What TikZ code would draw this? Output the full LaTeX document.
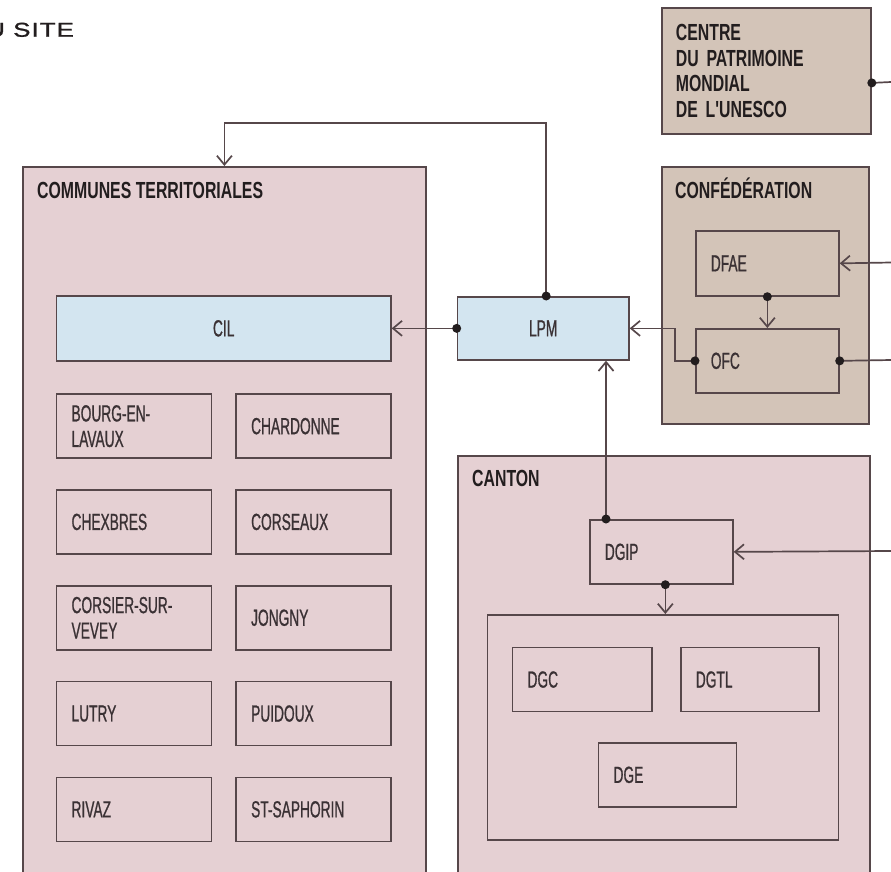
\documentclass[tikz,border=0pt]{standalone}
\usepackage{fontspec}
\setmainfont{Liberation Sans}
\newfontfamily\headfont[FakeStretch=1.3, FakeBold=1.2, LetterSpace=5]{Liberation Sans}
\newfontfamily\condfont[FakeStretch=0.59, FakeBold=0.8]{Liberation Sans}
\newfontfamily\condbold[FakeStretch=0.68]{Liberation Sans}
\usetikzlibrary{calc, arrows.meta}
\definecolor{pinkbg}{HTML}{E5D0D3}
\definecolor{tanbg}{HTML}{D3C4B8}
\definecolor{bluebg}{HTML}{D3E5F0}
\definecolor{edge}{HTML}{56474A}
\definecolor{ink}{HTML}{3A3134}
\definecolor{dark}{HTML}{221D1E}
\tikzset{>={Straight Barb[length=9pt,width=15pt]},
  zone/.style={draw=edge, line width=1.8pt, anchor=north west, inner sep=0pt},
  cell/.style={draw=edge, line width=1.7pt, anchor=north west, inner xsep=15pt, inner ysep=0pt,
    align=left, text=ink, font=\condfont\fontsize{23.3}{25.5}\selectfont},
  title/.style={anchor=base west, inner sep=0pt, text=dark, font=\condbold\bfseries\fontsize{23.3}{25.5}\selectfont},
  link/.style={draw=edge, line width=1.7pt}
}

\begin{document}
\begin{tikzpicture}[x=1pt, y=-1pt]
\useasboundingbox (0,0) rectangle (891,871);
\node[anchor=base west, inner sep=0pt, text=dark, font=\headfont\fontsize{20}{20}\selectfont] (head) at (-14,36.7) {U SITE};
% communes
\node[zone, fill=pinkbg, minimum width=403pt, minimum height=714pt] (communes) at (22,166) {};
\node[title] (communesT) at (37,198) {COMMUNES TERRITORIALES};
\node[cell, fill=bluebg, align=center, text width=304.3pt, minimum height=65pt] (cil) at (55.7,295) {CIL};
\foreach \txt [count=\i from 0] in {{BOURG-EN-\\LAVAUX}, CHARDONNE, CHEXBRES, CORSEAUX,
  {CORSIER-SUR-\\VEVEY}, JONGNY, LUTRY, PUIDOUX, RIVAZ, ST-SAPHORIN}{
  \pgfmathsetmacro\cx{55.7+179.6*mod(\i,2)}
  \pgfmathsetmacro\cy{393.3+95.8*int(\i/2)}
  \node[cell, text width=125pt, minimum height=64pt] (com\i) at (\cx,\cy) {\txt};
}
% lpm
\node[cell, fill=bluebg, align=center, text width=141.3pt, minimum height=63pt] (lpm) at (456.7,296) {LPM};
% unesco + confederation
\node[zone, fill=tanbg, align=left, text width=180.7pt, inner xsep=14.3pt, minimum height=126pt,
  text=dark, font=\condbold\bfseries\fontsize{23.3}{25.5}\selectfont] (centre) at (660.7,7)
  {CENTRE\\DU PATRIMOINE\\MONDIAL\\DE L'UNESCO};
\node[zone, fill=tanbg, minimum width=207.3pt, minimum height=257pt] (confed) at (660.7,166) {};
\node[title] (confedT) at (675,198) {CONFÉDÉRATION};
\node[cell, text width=113pt, minimum height=65pt] (dfae) at (695,230) {DFAE};
\node[cell, text width=113pt, minimum height=64pt] (ofc) at (695,328) {OFC};
% canton
\node[zone, fill=pinkbg, minimum width=412pt, minimum height=425pt] (canton) at (457,455) {};
\node[title] (cantonT) at (472,486) {CANTON};
\node[cell, text width=113pt, minimum height=64pt] (dgip) at (589,519) {DGIP};
\node[zone, line width=1.7pt, minimum width=351pt, minimum height=225pt] (dir) at (486.7,614) {};
\node[cell, text width=109.3pt, minimum height=64pt] (dgc) at (511.7,646.7) {DGC};
\node[cell, text width=108pt, minimum height=64pt] (dgtl) at (680,646.7) {DGTL};
\node[cell, text width=108pt, minimum height=64pt] (dge) at (597.7,742) {DGE};
% connectors
\coordinate (loop) at (0,123);
\coordinate (lpmTop) at ([xshift=3pt]lpm.north);
\coordinate (centreR) at ([yshift=-12pt]centre.east);
\coordinate (dgipTop) at ($(dgip.north west)+(17,0)$);
\coordinate (dgipBot) at ([xshift=4pt]dgip.south);
\coordinate (eUnesco) at (891,82);
\coordinate (eDfae) at (891,262.5);
\coordinate (eOfc) at (891,360);
\coordinate (eDgip) at (891,551);
\draw[link, ->] (lpmTop) |- (communes.north |- loop) -- (communes.north);
\draw[link, ->] (ofc.west) -- ++(-20,0) |- (lpm.east);
\draw[link, ->] (dgipTop) -- (dgipTop |- lpm.south);
\draw[link, ->] (dgipBot) -- (dgipBot |- dir.north);
\path
(lpm.west)  edge[link, ->] (cil.east)
(dfae.south) edge[link, ->] (ofc.north)
(eDfae)     edge[link, ->] (dfae.east)
(eDgip)     edge[link, ->] (dgip.east)
(centreR)   edge[link]     (eUnesco)
(ofc.east)  edge[link]     (eOfc);
\foreach \p in {lpm.west, lpmTop, centreR, dfae.south, ofc.west, ofc.east, dgipTop, dgipBot}
  \fill[dark] (\p) circle (4.5pt);
\end{tikzpicture}
\end{document}
